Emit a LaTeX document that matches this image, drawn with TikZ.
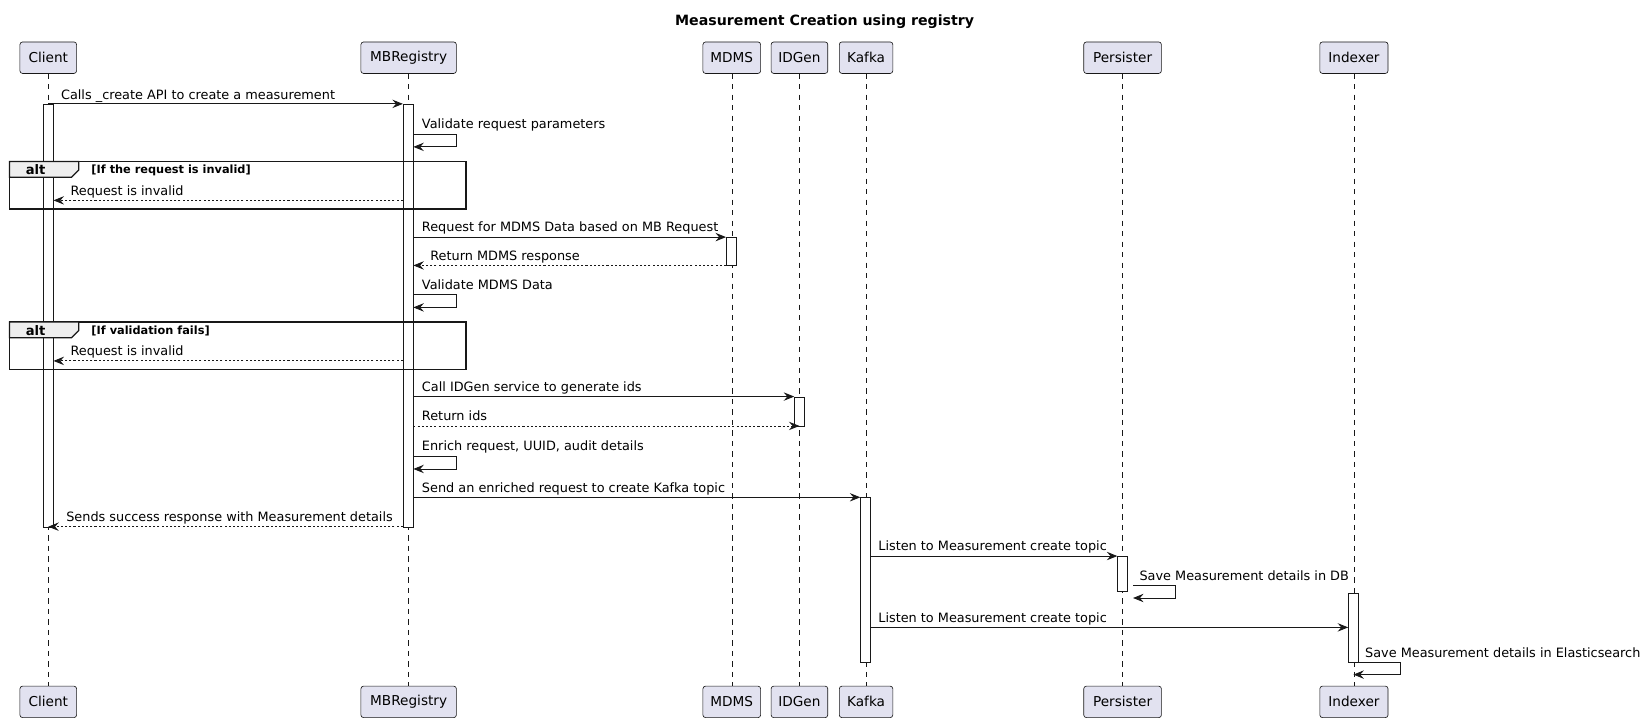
\documentclass[tikz,border=0pt]{standalone}
\usepackage{fontspec}
\setmainfont{DejaVu Sans}
\usetikzlibrary{arrows.meta}
\definecolor{partfill}{HTML}{E2E2F0}
\definecolor{ink}{HTML}{181818}
\definecolor{tabfill}{HTML}{EEEEEE}
\tikzset{
  part/.style={draw=ink, fill=partfill, rounded corners=2.5pt, minimum height=30pt, inner sep=0pt, line width=0.6pt, font=\fontsize{13}{15}\selectfont},
  life/.style={draw=ink, line width=0.5pt, dash pattern=on 5pt off 5pt},
  actbar/.style={draw=ink, fill=white, line width=0.7pt, minimum width=10pt, inner sep=0pt, anchor=north},
  msg/.style={draw=ink, line width=0.8pt, -{Stealth[length=10pt,width=8pt,inset=3.5pt]}},
  ret/.style={msg, dash pattern=on 2pt off 2pt},
  lbl/.style={anchor=base west, inner sep=0pt, font=\fontsize{12.25}{14}\selectfont},
  frm/.style={draw=ink, line width=1.5pt},
  tab/.style={draw=ink, fill=tabfill, line width=1.2pt},
  cond/.style={anchor=west, inner sep=0pt, font=\bfseries\fontsize{10.8}{12}\selectfont},
  altlbl/.style={anchor=center, inner sep=0pt, font=\bfseries\fontsize{12.5}{14}\selectfont},
}
\begin{document}
\begin{tikzpicture}[x=1pt,y=-1pt]
\useasboundingbox[fill=white] (0,0) rectangle (1567,687);
\node[font=\bfseries\fontsize{13.5}{16}\selectfont] (title) at (786,21) {Measurement Creation using registry};
% participants
\node[part, minimum width=54pt] (ct) at (46,55) {Client};
\node[part, minimum width=91pt] (rt) at (389.5,55) {MBRegistry};
\node[part, minimum width=55pt] (mt) at (697.5,55) {MDMS};
\node[part, minimum width=54pt] (it) at (762,55) {IDGen};
\node[part, minimum width=51pt] (kt) at (825.5,55) {Kafka};
\node[part, minimum width=74pt] (pt) at (1070,55) {Persister};
\node[part, minimum width=65pt] (xt) at (1290.5,55) {Indexer};
\node[part, minimum width=54pt] (cb) at (46,669) {Client};
\node[part, minimum width=91pt] (rb) at (389.5,669) {MBRegistry};
\node[part, minimum width=55pt] (mb) at (697.5,669) {MDMS};
\node[part, minimum width=54pt] (ib) at (762,669) {IDGen};
\node[part, minimum width=51pt] (kb) at (825.5,669) {Kafka};
\node[part, minimum width=74pt] (pb) at (1070,669) {Persister};
\node[part, minimum width=65pt] (xb) at (1290.5,669) {Indexer};
% lifelines
\draw[life] (ct.south) -- (cb.north);
\draw[life] (rt.south) -- (rb.north);
\draw[life] (mt.south) -- (mb.north);
\draw[life] (it.south) -- (ib.north);
\draw[life] (kt.south) -- (kb.north);
\draw[life] (pt.south) -- (pb.north);
\draw[life] (xt.south) -- (xb.north);
% activations
\node[actbar, minimum height=403pt] (ca) at (46,99) {};
\node[actbar, minimum height=403pt] (ra) at (389,99) {};
\node[actbar, minimum height=27pt] (ma) at (697,226) {};
\node[actbar, minimum height=28pt] (ia) at (762,378) {};
\node[actbar, minimum height=157pt] (ka) at (825,474) {};
\node[actbar, minimum height=33pt] (pa) at (1070,530) {};
\node[actbar, minimum height=66pt] (xa) at (1290,565) {};
% frames
\draw[frm] (9,154) rectangle (444,199);
\draw[tab] (9,154) -- (75,154) -- (75,162) -- (68,169) -- (9,169) -- cycle;
\node[altlbl] (alt1) at (34,162) {alt};
\node[cond] (c1) at (87,162) {[If the request is invalid]};
\draw[frm] (9,307) rectangle (444,352);
\draw[tab] (9,307) -- (75,307) -- (75,315) -- (68,322) -- (9,322) -- cycle;
\node[altlbl] (alt2) at (34,315) {alt};
\node[cond] (c2) at (87,315) {[If validation fails]};
% messages
\coordinate (m1a) at (46,99); \coordinate (m1b) at (384,99);
\draw[msg] (m1a) -- (m1b);
\node[lbl] (l1) at (58,95) {Calls \_create API to create a measurement};
\coordinate (s1a) at (394,128); \coordinate (s1b) at (394,140);
\draw[msg] (s1a) -- (435,128) -- (435,140) -- (s1b);
\node[lbl] (l2) at (402,122.5) {Validate request parameters};
\coordinate (m3a) at (384,191); \coordinate (m3b) at (51,191);
\draw[ret] (m3a) -- (m3b);
\node[lbl] (l3) at (67,186) {Request is invalid};
\coordinate (m4a) at (394,226); \coordinate (m4b) at (692,226);
\draw[msg] (m4a) -- (m4b);
\node[lbl] (l4) at (402,221) {Request for MDMS Data based on MB Request};
\coordinate (m5a) at (692,253); \coordinate (m5b) at (394,253);
\draw[ret] (m5a) -- (m5b);
\node[lbl] (l5) at (410,248) {Return MDMS response};
\coordinate (s2a) at (394,281); \coordinate (s2b) at (394,293);
\draw[msg] (s2a) -- (435,281) -- (435,293) -- (s2b);
\node[lbl] (l6) at (402,275.5) {Validate MDMS Data};
\coordinate (m7a) at (384,344); \coordinate (m7b) at (51,344);
\draw[ret] (m7a) -- (m7b);
\node[lbl] (l7) at (67,339) {Request is invalid};
\coordinate (m8a) at (394,378); \coordinate (m8b) at (757,378);
\draw[msg] (m8a) -- (m8b);
\node[lbl] (l8) at (402,373) {Call IDGen service to generate ids};
\coordinate (m9a) at (394,406); \coordinate (m9b) at (762,406);
\draw[ret] (m9a) -- (m9b);
\node[lbl] (l9) at (402,401) {Return ids};
\coordinate (s3a) at (394,435); \coordinate (s3b) at (394,447);
\draw[msg] (s3a) -- (435,435) -- (435,447) -- (s3b);
\node[lbl] (l10) at (402,429.5) {Enrich request, UUID, audit details};
\coordinate (m11a) at (394,474); \coordinate (m11b) at (820,474);
\draw[msg] (m11a) -- (m11b);
\node[lbl] (l11) at (402,469) {Send an enriched request to create Kafka topic};
\coordinate (m12a) at (384,502); \coordinate (m12b) at (46,502);
\draw[ret] (m12a) -- (m12b);
\node[lbl] (l12) at (63,497) {Sends success response with Measurement details};
\coordinate (m13a) at (830,530); \coordinate (m13b) at (1065,530);
\draw[msg] (m13a) -- (m13b);
\node[lbl] (l13) at (837,525) {Listen to Measurement create topic};
\coordinate (s4a) at (1080,558); \coordinate (s4b) at (1080,570);
\draw[msg] (s4a) -- (1120,558) -- (1120,570) -- (s4b);
\node[lbl] (l14) at (1086,553.5) {Save Measurement details in DB};
\coordinate (m15a) at (830,598); \coordinate (m15b) at (1285,598);
\draw[msg] (m15a) -- (m15b);
\node[lbl] (l15) at (837,593) {Listen to Measurement create topic};
\coordinate (s5a) at (1295,631); \coordinate (s5b) at (1290,643);
\draw[msg] (s5a) -- (1335,631) -- (1335,643) -- (s5b);
\node[lbl] (l16) at (1301,626.5) {Save Measurement details in Elasticsearch};
\end{tikzpicture}
\end{document}
